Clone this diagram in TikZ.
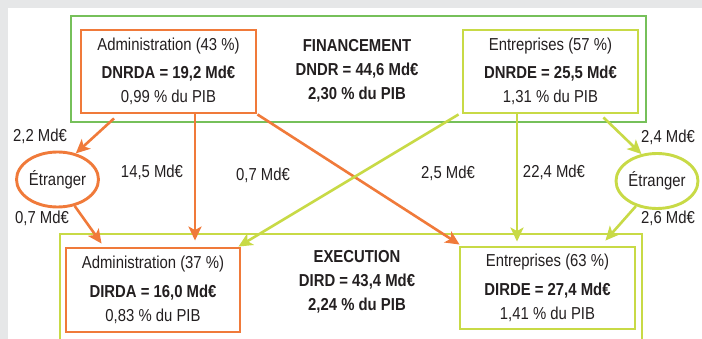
\documentclass[tikz,border=0pt]{standalone}
\usepackage{fontspec}
\setmainfont{Liberation Sans}[FakeStretch=0.86]
\usetikzlibrary{arrows.meta,positioning,shapes.geometric}

\definecolor{orangeRD}{RGB}{240,122,58}
\definecolor{greenFin}{RGB}{118,192,90}
\definecolor{limeRD}{RGB}{200,218,70}
\definecolor{greyBg}{RGB}{230,231,232}
\definecolor{textDk}{RGB}{35,31,32}

\tikzset{
  txt/.style={font=\fontsize{17.3}{24}\selectfont, text=textDk, inner sep=0pt},
  secbox/.style={txt, line width=2.9pt, minimum width=175pt, minimum height=83pt, align=center},
  outerbox/.style={line width=2.9pt, inner sep=0pt},
  etr/.style={txt, ellipse, line width=2.9pt, minimum width=82pt, minimum height=55pt},
  arrO/.style={draw=orangeRD, line width=2.6pt, -{Stealth[length=14pt,width=13pt,inset=3.5pt,fill=orangeRD]}},
  arrG/.style={draw=limeRD, line width=2.6pt, -{Stealth[length=14pt,width=13pt,inset=3.5pt,fill=limeRD]}}
}

\begin{document}
\begin{tikzpicture}[x=1pt,y=-1pt]
\useasboundingbox (0,0) rectangle (702,339);
\fill[greyBg] (0,0) rectangle (702,339);
\fill[white] (8,8) rectangle (702,339);

% Financement
\node[outerbox, draw=greenFin, minimum width=575pt, minimum height=106pt] (finBox) at (358.5,69) {};
\node[secbox, draw=orangeRD] (adminF) at (168.5,71.5) {Administration (43 \%)\\[4pt]\textbf{DNRDA = 19,2 Md€}\\0,99 \% du PIB};
\node[secbox, draw=limeRD] (entF) at (550.5,71.5) {Entreprises (57 \%)\\[4pt]\textbf{DNRDE = 25,5 Md€}\\1,31 \% du PIB};
\node[txt, align=center, font=\fontsize{17.3}{24}\selectfont\bfseries] (finTxt) at (357,71) {FINANCEMENT\\DNDR = 44,6 Md€\\2,30 \% du PIB};

% Execution
\node[outerbox, draw=limeRD, minimum width=582pt, minimum height=130pt] (execBox) at (351,299) {};
\node[secbox, draw=orangeRD, minimum width=174pt, minimum height=84pt] (adminE) at (153,290) {Administration (37 \%)\\[5pt]\textbf{DIRDA = 16,0 Md€}\\0,83 \% du PIB};
\node[secbox, draw=limeRD, minimum height=82pt] (entE) at (547.5,288) {Entreprises (63 \%)\\[5pt]\textbf{DIRDE = 27,4 Md€}\\1,41 \% du PIB};
\node[txt, align=center, font=\fontsize{17.3}{24}\selectfont\bfseries] (execTxt) at (357,281.5) {EXECUTION\\DIRD = 43,4 Md€\\2,24 \% du PIB};

% Etranger
\node[etr, draw=orangeRD] (etrL) at (57.5,179.5) {Étranger};
\node[etr, draw=limeRD] (etrR) at (657,181) {Étranger};

% flux
\draw[arrO] ([xshift=-54.5pt,yshift=-4pt]adminF.south) -- (etrL.55);
\draw[arrO] (etrL.-57) -- ([xshift=37pt,yshift=3pt]adminE.north west);
\draw[arrO] ([xshift=26.5pt]adminF.south) -- ([xshift=42pt,yshift=6pt]adminE.north);
\draw[arrO] (adminF.south east) -- ([xshift=1pt,yshift=1pt]entE.north west);
\draw[arrG] ([xshift=-3pt]entF.south west) -- ([xshift=-3pt]adminE.north east);
\draw[arrG] ([xshift=-33.5pt]entF.south) -- ([xshift=-30.5pt,yshift=4pt]entE.north);
\draw[arrG] ([xshift=-36pt,yshift=-3pt]entF.south east) -- (etrR.120);
\draw[arrG] (etrR.-130) -- ([xshift=-31pt,yshift=5pt]entE.north east);

% montants
\node[txt] (l22) at (40,136) {2,2 Md€};
\node[txt] (l07a) at (42,218) {0,7 Md€};
\node[txt] (l145) at (152,172) {14,5 Md€};
\node[txt] (l07b) at (263,175) {0,7 Md€};
\node[txt] (l25) at (448,173) {2,5 Md€};
\node[txt] (l224) at (554,172) {22,4 Md€};
\node[txt] (l24) at (668,137) {2,4 Md€};
\node[txt] (l26) at (668,218) {2,6 Md€};
\end{tikzpicture}
\end{document}
